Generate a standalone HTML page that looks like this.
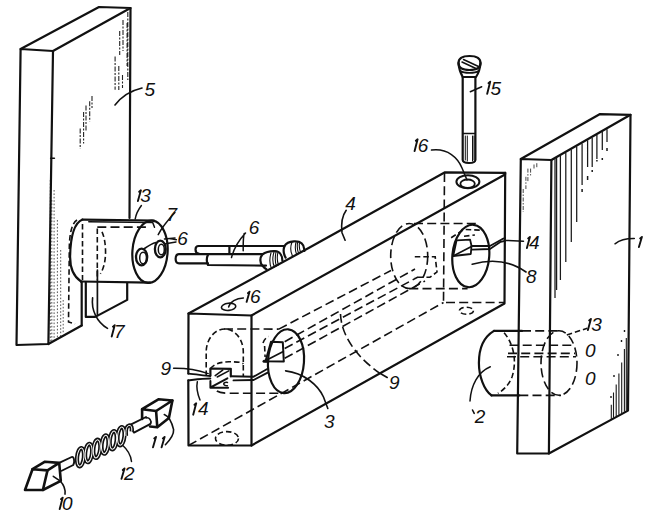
<!DOCTYPE html>
<html><head><meta charset="utf-8">
<style>
html,body{margin:0;padding:0;background:#fff;}
svg{display:block;}
.t{font-family:"Liberation Sans",sans-serif;font-style:italic;font-size:19px;fill:#111;}
</style></head>
<body>
<svg width="660" height="515" viewBox="0 0 660 515">
<rect width="660" height="515" fill="#fff"/>

<!-- hatching (thin) -->
<g fill="none" stroke="#444" stroke-width="0.9" stroke-dasharray="1.6 1.8">
<path d="M50.3,180 L50.3,342 M51.8,200 L51.8,341 M54.1,190 L54.1,340 M57.4,220 L57.4,338 M60.7,250 L60.7,336 M63.2,300 L63.2,334"/>
</g>
<g fill="none" stroke="#222" stroke-width="1.1" stroke-dasharray="5 1.5 2 1.5">
<path d="M80.2,128.4 L80.2,148.8 M83.6,112 L83.6,143.4 M86,105.4 L86,131.2 M89.7,101.3 L89.7,121.6 M92,95.9 L92,108.1"/>
<path d="M127.8,12 L127.8,80 M127.1,23 L127.1,66 M123,20 L123,51 M119.7,31 L119.7,55 M118.8,66 L118.8,90 M115.1,56.5 L115.1,89.7 M122.5,75 L122.5,88"/>
</g>
<g fill="none" stroke="#1a1a1a" stroke-width="1.25">
<path d="M555,158.9 L555,298 M556.6,158.0 L556.6,290 M560.4,155.9 L560.4,280 M565.8,152.8 L565.8,262 M571.3,149.6 L571.3,242 M576.7,146.5 L576.7,222 M582.1,143.5 L582.1,185 M587.6,140.3 L587.6,167 M592.2,137.7 L592.2,167 M596.9,135.0 L596.9,159 M602.3,131.9 L602.3,150 M607,129.2 L607,142"/>
<path d="M582.1,189 L582.1,192 M587.6,176 L587.6,180 M592.2,170 L592.2,172 M596.9,160 L596.9,161.5 M602.3,158 L602.3,160 M607,148 L607,151" stroke-width="1.5"/>
</g>
<g fill="none" stroke="#333" stroke-width="0.9" stroke-dasharray="4 1.5 1.5 1.5">
<path d="M523.2,189 L523.2,212 M525.9,176.8 L525.9,189 M527.9,168.6 L527.9,182.2 M530.6,168.6 L530.6,175.4 M534,164.5 L534,170 M536.8,163.2 L536.8,168.6"/>
</g>
<g fill="none" stroke="#1a1a1a" stroke-width="1.1"><path d="M611.3,418.9 L611.3,404.8 M613.5,417.7 L613.5,392.5 M616.2,416.2 L616.2,384.4 M618.9,414.8 L618.9,373.5 M621.7,413.2 L621.7,362.6 M624.4,411.8 L624.4,349 M626.3,410.7 L626.3,338"/><path d="M611,396 L611,398 M614,375 L614,377 M618,354 L618,356 M621.5,340 L621.5,342 M624.5,330 L624.5,332" stroke-width="1.4"/>
</g>

<g fill="none" stroke="#111" stroke-width="2.2" stroke-linejoin="round" stroke-linecap="round">
<!-- LEFT PLATE 5 -->
<path d="M20.6,49 L16.5,345 L48.4,344 L53,51 Z"/>
<path d="M20.6,49 L99,7 L130.5,8 L53,51"/>
<path d="M130.5,8 L129.5,218"/>
<path d="M50.7,158.3 L54.4,158.3" stroke-width="1.6"/>
<path d="M48.4,344 L81.7,325.5"/>
<path d="M115,105 Q125,92 142,88" stroke-width="1.6"/>

<!-- CYLINDER 7 -->
<path d="M82.5,219.6 L154,220.5"/>
<path d="M88.8,221.7 L152.7,222.5 L154.5,227.3" stroke-width="1.5"/>
<path d="M81,281.5 L150,282.7"/>
<path d="M82.5,219.6 C74,223 70.5,236 70.1,256.6 C70,268 74,277 81,281.5"/>
<ellipse cx="150" cy="251.8" rx="17.6" ry="31.2" transform="rotate(4 150 251.8)"/>
<ellipse cx="141.6" cy="257" rx="5.6" ry="8.3" stroke-width="2.3"/>
<ellipse cx="143.1" cy="258" rx="3.4" ry="5.8" stroke-width="1.5"/>
<ellipse cx="160.3" cy="249" rx="5.4" ry="8.3" stroke-width="2.3"/>
<ellipse cx="161.3" cy="249.5" rx="3" ry="5.3" stroke-width="1.5"/>
<path d="M144.5,248.5 C148,246 152,243.5 156,242.5" stroke-width="1.6"/>
<path d="M164.5,239 L175,238 M165.5,243.8 L176,242" stroke-width="1.5"/>
<path d="M141.4,205.5 C138,210 136,214 135.2,219" stroke-width="1.5"/>
<path d="M174.9,212.5 C168,220 162,227 158.2,234.7" stroke-width="1.5"/>

<!-- BRACKET 17 -->
<path d="M81.7,281.5 L81.7,325.5"/>
<path d="M85.8,282.5 L85.8,316.9 L95.3,316.9 L127.2,299.9 L127.2,283"/>
<path d="M97.4,270 L97.4,314.8" stroke-width="1.7"/>
<path d="M92.6,297.8 C91,310 97,322 107.5,328.4" stroke-width="1.6"/>

<!-- PINS 6 -->
<path d="M229.4,246 L198.6,246 C194.5,246 194.5,253 198.6,253.5"/>
<path d="M229.4,246 L229.4,254"/>
<path d="M229.4,246 L284.5,246"/>
<path d="M208,254.2 L179,254.2 C174.5,254.2 174.5,263.4 179,263.4 L208,263.4"/>
<path d="M208,254.2 L262.3,254.2"/>
<path d="M208,254.5 C206.5,258 206.5,262 208,265 L266,265.6"/>
<!-- pin heads -->
<path d="M284.5,246 C286,243 290,241.5 294,241.3 C299,241 303.6,243 304.2,249 L304.4,251 M284.5,246 C283,250 283.5,254 285.6,257.6"/>
<path d="M262.3,254.5 C265,252.5 270,251 275,251.2 C280,251.5 282.4,256 282.4,260.8 M262.3,254.5 C259.5,258 260,263 262.3,265.5 C263.5,267 265,268.5 266.5,269.2"/>
<path d="M271,253 C269.5,258 269.5,264 271.5,268.5 M274,252 C272.5,257 272.5,263 274.5,267 M276,252 C275,257 275,262 276.5,266 M277.8,253 C277,257 277,261 278.5,265 M292,242 C290.5,246 290.5,252 292.5,256 M296.2,241.5 C295,245.5 295,250 296.5,254 M297.8,241.5 C297,245 297,249 298.5,253 M299.6,242 C299,245 299,248 300.5,252" stroke-width="1.1"/>
<path d="M244.2,233.5 C243,238 243.2,244 243.2,250.7 M245.5,233 C239,240 234,248 231.5,257.5" stroke-width="1.5"/>
<path d="M170,238.6 L176.4,239.7" stroke-width="1.4"/>

<!-- BLOCK 4 -->
<path d="M188.3,373.6 L188.5,313.5 L251.5,315.5 L251.5,445.5 L188.5,445.5 L188.3,380.4"/>
<path d="M188.5,313.5 L310,247.3 L445,172.3 L505.2,172.8 L505,174.5 L251.5,315.5"/>
<path d="M505.2,172.8 L504.5,303.5 L251.5,445.5"/>
<path d="M346.2,210.3 C342,216 341,224 342,232.7 L345.1,240.2" stroke-width="1.6"/>
<ellipse cx="228.6" cy="306.8" rx="7.2" ry="3.6" transform="rotate(-6 228.6 306.8)" stroke-width="1.6"/>
<path d="M243.4,297.9 C236,298 230,302 228.6,307" stroke-width="1.5"/>
<ellipse cx="467.9" cy="181.7" rx="11.5" ry="6.5" stroke-width="2"/>
<ellipse cx="467.6" cy="183.7" rx="7.2" ry="4.2" stroke-width="1.8"/>
<path d="M431.5,150.1 C448,148 458,158 462,168 L467,180" stroke-width="1.5"/>
<!-- bore ellipse 3 -->
<ellipse cx="286" cy="361.2" rx="18" ry="32" transform="rotate(4 286 361.2)"/>
<path d="M285.6,370.9 C304,373 318,385 323.5,397 L327.8,408.5" stroke-width="1.6"/>
<!-- brush in ellipse 3 -->
<path d="M271,341.8 L282.8,342.3 L283.8,361.5 L265.5,361.2 Z" stroke-width="2"/>
<path d="M266.8,359.9 L283.3,351.4" stroke-width="1.7"/>
<path d="M264,361.2 L268,361.2" stroke-width="3"/>
<!-- holder 9/14 front -->
<path d="M267.2,369 L253.6,376.7 L230.8,376.3" stroke-width="1.9"/>
<path d="M267.2,372.8 L253.6,380 L233.5,380.4" stroke-width="1.9"/>
<path d="M210.4,368.5 L230.8,368.8 L230.8,376.3 M210.4,368.5 L210.4,375.5" stroke-width="2.2"/>
<path d="M215.2,375.6 L222.7,370.2 M217.2,377 L228.8,370.9" stroke-width="1.6"/>
<path d="M210.4,381 L210.4,387.8 L228.1,387.8 M211.1,387.2 L227.4,378.3" stroke-width="2"/>
<path d="M188.3,373.6 C196,374 203,375.6 210.4,376" stroke-width="1.8"/>
<path d="M188.3,380.4 C196,379.5 203,378.5 210.4,378.5" stroke-width="1.8"/>
<path d="M227.5,382.4 C223,382 222,385.5 227.4,385.8" stroke-width="1.5"/>
<path d="M173.6,368.2 C186,368 198,370 208.2,373.6" stroke-width="1.5"/>
<path d="M197.3,381.8 C196,388 198,395 200,400" stroke-width="1.5"/>
<!-- ellipse 8 -->
<ellipse cx="470.8" cy="256" rx="18.4" ry="31.3" transform="rotate(5 470.8 256)"/>
<path d="M456.6,240.4 L470.1,239.7 L471.5,245.8 L470.8,254 L453.2,256 Z" stroke-width="1.8"/>
<path d="M453.2,256 L471.5,246.5" stroke-width="1.6"/>
<path d="M471.5,246 L489.9,246 L502.1,239.2 L505,238" stroke-width="1.8"/>
<path d="M472.2,249.6 L489.9,249 L500.7,241.8 L505,240.8" stroke-width="1.8"/>
<path d="M472.2,264.2 C495,258 512,262 526,272" stroke-width="1.6"/>
<path d="M505,240.4 L523.5,241.2" stroke-width="1.5"/>

<!-- SCREW 15 -->
<path d="M458.5,63 C458.5,58 463,56 469.5,56 C476,56 480.5,58 480.5,63 C480.5,68 476,70 469.5,70 C463,70 458.5,68 458.5,63 Z"/>
<path d="M458.5,63 C459,70 461,74 462.7,77 L476,77 C478,74 480,70 480.5,63"/>
<path d="M462.7,77 L462.7,160 C463,164 475,164 475.4,160 L475.4,77"/>
<path d="M463,133.5 L475,133.5" stroke-width="1.6"/>
<path d="M463.5,59.5 L478.5,66.5 M462,62 L477,69" stroke-width="1.5"/>
<path d="M460.5,71 C464,73.5 475,73.5 478.5,71" stroke-width="1.6"/>
<path d="M465.3,136 L465.3,160 M467.3,136 L467.3,161 M472.5,136 L472.5,161 M474,136 L474,160" stroke-width="1"/>
<path d="M470.3,91.8 L481.7,86.7" stroke-width="1.5"/>

<!-- RIGHT PLATE 1 -->
<path d="M520.8,159 L517.2,453.5 L548.9,453.5 L551.4,160 Z"/>
<path d="M520.8,159 L599.6,114.2 L630.5,114.8 L551.4,160"/>
<path d="M630.5,114.8 L628,410.6 L548.9,453.5"/>
<path d="M615,243.8 C620,240 627,238.5 634.3,238.6" stroke-width="1.5"/>

<!-- CYLINDER 2 -->
<path d="M494,330.9 L522,330.9"/>
<path d="M491.5,395.4 L519.3,395.4"/>
<path d="M494,330.9 C482,338 478.9,352 478.9,363 C478.9,376 484,390 491.5,395.4"/>
<path d="M490.3,366.8 C478,372 471,385 470,401" stroke-width="1.5"/>

<path d="M380.8,373.7 L387.2,377.5" stroke-width="1.6"/>
<path d="M472.5,410 L474.2,413.3" stroke-width="1.6"/>
<!-- BRUSH 10 -->
<path d="M32.5,469.2 L47.5,470.4 L42.9,490 L25,490 Z" stroke-width="2.6"/>
<path d="M32.5,469.2 L45,461.7 L59.2,462.9 L47.5,470.4 M59.2,462.9 L60.8,480.8 L42.9,490" stroke-width="2.6"/>
<path d="M53.3,476.3 L60,480.8 C64,485 65.5,490 65,494.2" stroke-width="1.6"/>
<!-- shunt tube -->
<path d="M59.2,462.9 L71.7,457 C74,456 75,462 73.3,465 L61.7,470.8" stroke-width="1.8"/>
<path d="M130.6,424.7 L146,417 M134,432.6 L150.5,423.8 M131.2,425.5 L133.5,432" stroke-width="1.9"/>
<path d="M146,417.9 C149.5,417 152,421 150.5,423.5" stroke-width="1.6"/>
<!-- BRUSH 11 -->
<path d="M142.1,409.2 L158.4,399.3 L172.4,400.5 L156.1,411 Z" stroke-width="2.6"/>
<path d="M142.1,409.2 L142.1,419 M156.1,411 L157.3,427.3 L150,426.5 M172.4,400.5 L168.9,418 L157.3,427.3" stroke-width="2.6"/>
<path d="M164.3,414.5 C168,416 171.3,420 173.6,429.6 C174,435 170,440 165.4,444.7" stroke-width="1.6"/>
<path d="M121.8,444.5 C128,450 131,456 131.5,461.5" stroke-width="1.5"/>
</g>

<!-- SPRING 12 -->
<g fill="none">
<g stroke="#111" stroke-width="4.2">
<ellipse cx="80.5" cy="457.2" rx="3.4" ry="9.2" transform="rotate(6 80.5 457.2)"/>
<ellipse cx="88.6" cy="453" rx="3.4" ry="9.2" transform="rotate(6 88.6 453)"/>
<ellipse cx="96.8" cy="448.8" rx="3.4" ry="9.2" transform="rotate(6 96.8 448.8)"/>
<ellipse cx="105" cy="444.5" rx="3.4" ry="9.2" transform="rotate(6 105 444.5)"/>
<ellipse cx="113.2" cy="440.2" rx="3.4" ry="9.2" transform="rotate(6 113.2 440.2)"/>
<ellipse cx="121" cy="436.2" rx="3.4" ry="9.2" transform="rotate(6 121 436.2)"/>
<path d="M126,436 C125.5,430 126.5,426 129,425.5 C131.5,425 132.2,428 131.6,431.5"/>
</g>
<g stroke="#fff" stroke-width="1.0">
<ellipse cx="80.5" cy="457.2" rx="3.4" ry="9.2" transform="rotate(6 80.5 457.2)"/>
<ellipse cx="88.6" cy="453" rx="3.4" ry="9.2" transform="rotate(6 88.6 453)"/>
<ellipse cx="96.8" cy="448.8" rx="3.4" ry="9.2" transform="rotate(6 96.8 448.8)"/>
<ellipse cx="105" cy="444.5" rx="3.4" ry="9.2" transform="rotate(6 105 444.5)"/>
<ellipse cx="113.2" cy="440.2" rx="3.4" ry="9.2" transform="rotate(6 113.2 440.2)"/>
<ellipse cx="121" cy="436.2" rx="3.4" ry="9.2" transform="rotate(6 121 436.2)"/>
<path d="M126,436 C125.5,430 126.5,426 129,425.5 C131.5,425 132.2,428 131.6,431.5"/>
</g>
</g>

<!-- DASHED hidden lines -->
<g fill="none" stroke="#111" stroke-width="1.6" stroke-dasharray="9 4.2">
<path d="M444.5,173 L443.5,302.5 L504.5,302.5"/>
<path d="M188.5,445.5 L443.5,302.5"/>
<path d="M82.5,224 L82.5,280" stroke-dasharray="5.5 3"/>
<path d="M97.3,228.6 L97.3,280" stroke-dasharray="5.5 3"/>
<path d="M102,231.8 C106,240 108,262 100.4,273.7" stroke-dasharray="5.5 3"/>
<path d="M77,220 C71,224 69.3,236 69.3,250 L68.5,322 L75,324" stroke-dasharray="5.5 3"/>
<path d="M97.3,227.1 L150,227.1"/>
<!-- cylinder 2 hidden -->
<path d="M522,330.9 L561.4,330.9"/>
<path d="M519.3,395.4 L561,395.4"/>
<ellipse cx="559" cy="363" rx="18" ry="32.3"/>
<path d="M504.1,332.8 C513,343 517.5,360 512,377 C509,385 503,390.5 497.8,393.3" stroke-dasharray="5.5 3"/>
<path d="M509.5,345.2 L574.3,345.2 M508,353.4 L575,353.4 M507,356.8 L576,356.8"/>
<path d="M566.8,335 L587.3,328.2" stroke-dasharray="5.5 3"/>
<!-- bore in block -->
<path d="M206.2,376 L206.2,352 A18.55,23 0 0 1 243.3,352 L243.3,376" stroke-dasharray="5.5 3"/>
<path d="M210.4,368.8 C214,364 220,362 229,361.8 C236,361.8 242,362 243.3,364" stroke-dasharray="5.5 3"/>
<path d="M224,329 L278.8,329.1"/>
<path d="M278.8,329.1 L391,270.5"/>
<path d="M284.7,341.7 L415,269"/>
<path d="M284.7,348.5 L418,277"/>
<path d="M284.7,358.3 L425,281"/>
<path d="M264.6,346 L265.1,357 M263,343 C264,340 266,337.5 268.5,336.5" stroke-dasharray="5.5 3"/>
<path d="M216.8,391 C220,393 224,393.2 229.5,393.2 L282.7,393.2"/>
<path d="M414,223.5 L476.9,223.5 M409.3,288.6 L467.6,288.6"/>
<ellipse cx="409.2" cy="256" rx="18.5" ry="32.5"/>
<path d="M414.8,256.8 L435.2,256.8 L437,272 L430,277.2 L414.8,277.2" stroke-dasharray="5.5 3"/>
<path d="M340.5,313.9 C341,330 350,352 379.6,373.2"/>
<path d="M451.1,237.7 L464,229.5 L481.7,230.2 M464,236.3 L474.9,235" stroke-dasharray="5.5 3"/>
<ellipse cx="227" cy="438.4" rx="11.5" ry="6.8" stroke-dasharray="5.5 3"/>
<ellipse cx="466.4" cy="310.7" rx="7" ry="3.5" stroke-dasharray="5.5 3"/>
</g>

<!-- Labels -->
<g class="t">
<text x="144.4" y="96.0">5</text>
<text x="140.2" y="202.0">3</text>
<text x="166.4" y="221.4">7</text>
<text x="177.2" y="245.4">6</text>
<text x="248.8" y="233.8">6</text>
<text x="345.2" y="210.2">4</text>
<text x="250.0" y="303.2">6</text>
<text x="417.7" y="152.0">6</text>
<text x="490.4" y="94.8">5</text>
<text x="529.0" y="249.0">4</text>
<text x="526.1" y="282.6">8</text>
<text x="591.2" y="331.0">3</text>
<text x="584.9" y="356.8">0</text>
<text x="584.9" y="385.4">0</text>
<text x="474.7" y="423.4">2</text>
<text x="389.0" y="389.0">9</text>
<text x="323.9" y="428.2">3</text>
<text x="160.6" y="374.8">9</text>
<text x="198.0" y="415.4">4</text>
<text x="114.1" y="337.6">7</text>
<text x="124.1" y="479.8">2</text>
<text x="61.9" y="510.0">0</text>
</g>
<path fill="none" stroke="#111" stroke-width="1.9" stroke-linecap="round" stroke-linejoin="round" d="M137.9,201.1 L140.9,190.3 L139.2,191.8 M246.6,301.9 L249.6,291.6 L247.9,293.1 M414.6,151.1 L417.6,139.3 L415.9,140.8 M487.2,93.8 L490.2,81.7 L488.5,83.2 M526.9,248.1 L529.9,236.9 L528.2,238.4 M638.9,247.1 L641.9,236.9 L640.2,238.4 M587.9,330.1 L590.9,318.9 L589.2,320.4 M193.2,414.7 L196.2,403.3 L194.5,404.8 M111.7,336.5 L114.7,325.2 L113.0,326.7 M153.0,447.3 L156.0,436.9 L154.3,438.4 M161.6,447.3 L164.6,436.9 L162.9,438.4 M121.5,478.8 L124.5,468.5 L122.8,470.0 M59.7,509.1 L62.7,497.6 L61.0,499.1"/>
</svg>
</body></html>
